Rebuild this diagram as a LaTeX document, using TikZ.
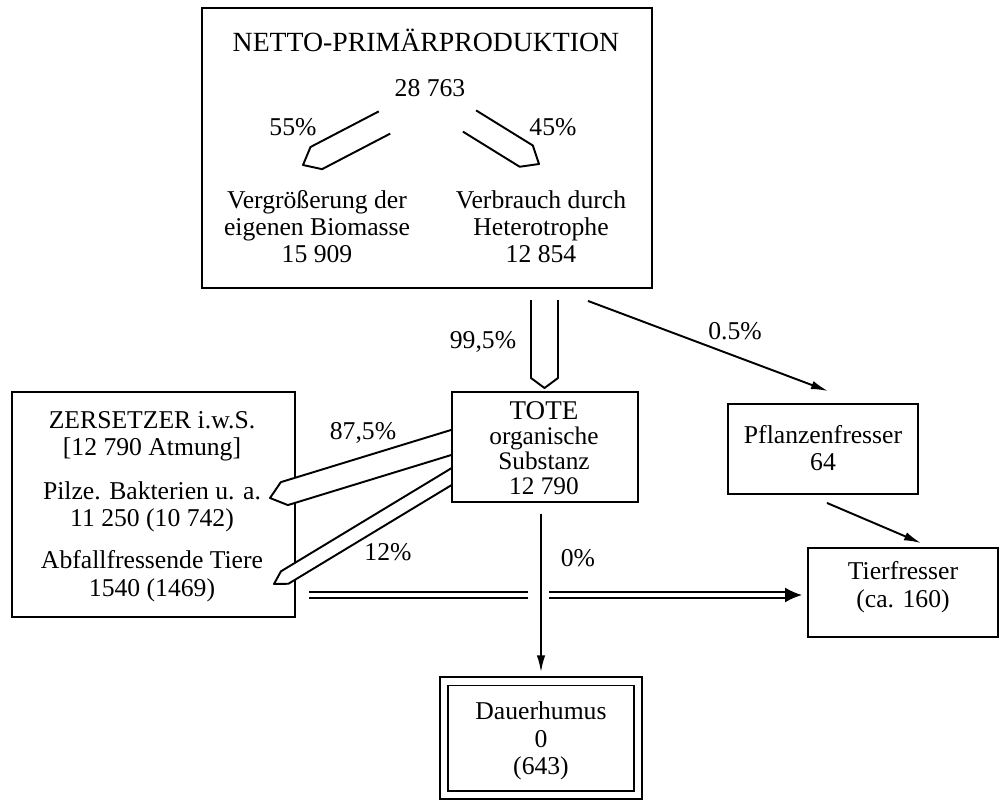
\documentclass[tikz,border=0pt]{standalone}
\usepackage{fontspec}
\setmainfont{Liberation Serif}
\usetikzlibrary{arrows.meta,calc}

\tikzset{
  box/.style={draw, line width=1.1pt, fill=white, inner sep=0pt},
  txt/.style={align=center, inner sep=0pt, font=\fontsize{14.6}{15.6}\selectfont},
  pct/.style={inner sep=0pt, font=\fontsize{14.6}{15.6}\selectfont},
  flowline/.style={line width=1.1pt, -{Latex[length=0.34cm,width=0.17cm]}},
  hollow/.style 2 args={line width=1.1pt, fill=white, line join=round,
    to path={($(\tikztostart)!#1!90:(\tikztotarget)$)
      -- ($(\tikztotarget)!#2!(\tikztostart) + (\tikztostart)!#1!90:(\tikztotarget) - (\tikztostart)$)
      -- (\tikztotarget)
      -- ($(\tikztotarget)!#2!(\tikztostart) + (\tikztostart)!#1!-90:(\tikztotarget) - (\tikztostart)$)
      -- ($(\tikztostart)!#1!-90:(\tikztotarget)$)}},
}

\begin{document}
\begin{tikzpicture}[x=0.02cm, y=-0.02cm]
  \useasboundingbox (0,0) rectangle (1004,802);

  % Boxes
  \node[box, minimum width=9cm, minimum height=5.6cm] (netto) at (427,148) {};
  \node[box, minimum width=5.66cm, minimum height=4.5cm] (zers) at (153.5,504.5) {};
  \node[box, minimum width=3.8cm, minimum height=1.8cm] (pflanzen) at (823,449) {};
  \node[box, minimum width=3.8cm, minimum height=1.78cm] (tier) at (903,592.5) {};
  \node[box, double, double distance=0.13cm, minimum width=3.88cm, minimum height=2.27cm] (humus) at (541,738) {};

  % Top box texts
  \node[txt, font=\fontsize{15.8}{17}\selectfont] (nettotitle) at (426,40) {NETTO-PRIMÄRPRODUKTION};
  \node[txt] (nettoval) at (430,88) {28 763};
  \node[pct] (p55) at (293,127) {55\%};
  \node[pct] (p45) at (553,127) {45\%};
  \node[txt, font=\fontsize{14.6}{15.4}\selectfont] (biomasse) at (317,227) {Vergrößerung der\\eigenen Biomasse\\15 909};
  \node[txt, font=\fontsize{14.6}{15.4}\selectfont] (hetero) at (541,227) {Verbrauch durch\\Heterotrophe\\12 854};

  % Zersetzer texts
  \node[txt] (zerstitle) at (152,436) {ZERSETZER i.w.S.\\{}[12 790 Atmung]};
  \node[txt] (pilze) at (152,507) {Pilze. Bakterien u. a.\\11 250 (10 742)};
  \node[txt] (abfall) at (152,576) {Abfallfressende Tiere\\1540 (1469)};

  % Other box texts
  \node[txt] (pflanzentxt) at (823,448) {Pflanzenfresser\\64};
  \node[txt] (tiertxt) at (903,587) {Tierfresser\\(ca. 160)};
  \node[txt] (humustxt) at (541,741) {Dauerhumus\\0\\(643)};

  % Hollow flows
  \coordinate (bioS) at (384.5,122.5);
  \coordinate (bioT) at (303,165);
  \coordinate (hetS) at (469.5,121);
  \coordinate (hetT) at (539,164);
  \coordinate (toteS) at (544.5,300);
  \coordinate (toteT) at (544.5,388);
  \coordinate (pilzS) at (456,441);
  \coordinate (pilzT) at (270,498);
  \coordinate (abfS) at (455,474.5);
  \coordinate (abfT) at (274,584);
  \draw[hollow={0.25cm}{0.3cm}] (bioS) to (bioT);
  \draw[hollow={0.25cm}{0.3cm}] (hetS) to (hetT);
  \draw[hollow={0.27cm}{0.2cm}] (toteS) to (toteT);
  \draw[hollow={0.24cm}{0.3cm}] (pilzS) to (pilzT);
  \draw[hollow={0.145cm}{0.25cm}] (abfS) to (abfT);

  % Tote organische Substanz
  \node[box, minimum width=3.72cm, minimum height=2.2cm] (tote) at (545,447) {};
  \node[txt, font=\fontsize{14.4}{14.2}\selectfont] (totetxt) at (544,448) {\fontsize{15.4}{14.2}\selectfont TOTE\\organische\\Substanz\\12 790};

  % Labels
  \node[pct] (p995) at (483,342) {99,5\%};
  \node[pct] (p05) at (735,331) {0.5\%};
  \node[pct] (p875) at (363,433) {87,5\%};
  \node[pct] (p12) at (388,552) {12\%};
  \node[pct] (p0) at (578,558) {0\%};

  % Thin arrows
  \draw[flowline] ($(netto.south)+(161,12)$) -- ($(pflanzen.north)+(5,-12)$);
  \draw[flowline] ($(pflanzen.south)+(4,8)$) -- ($(tier.north)+(18,-4)$);

  % Double line to Tierfresser
  \draw[double, double distance=0.08cm, line width=1.1pt, -{Latex[length=0.34cm,width=0.3cm]}]
    ($(zers.east |- tier.west)+(13,2.5)$) -- ($(tier.west)+(-5,2.5)$);
  \fill[white] (528,586) rectangle (549,604);
  \draw[flowline] ($(tote.south)+(-4,11)$) -- ($(humus.north)+(0,-8)$);
\end{tikzpicture}
\end{document}
